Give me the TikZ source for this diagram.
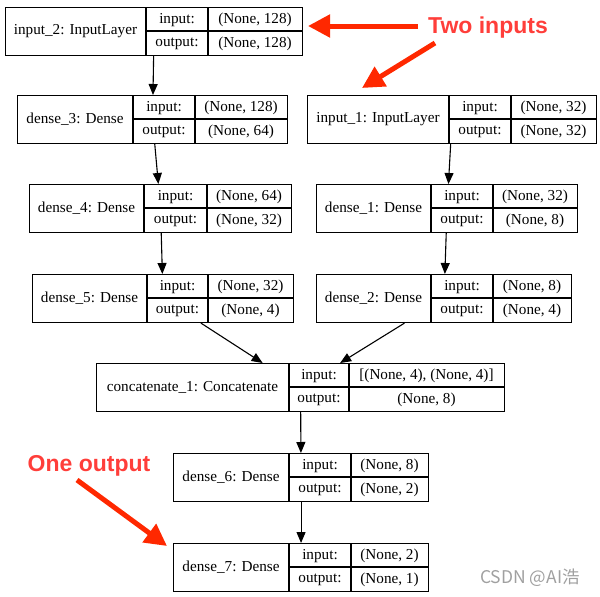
\documentclass[tikz,border=0pt]{standalone}
\usepackage{fontspec}
\setmainfont{Liberation Serif}
\newfontfamily\notefont{Liberation Sans}
\newfontfamily\cjk{Noto Sans CJK SC}
\usetikzlibrary{arrows.meta}
\definecolor{notered}{RGB}{255,62,58}
\definecolor{arrowred}{RGB}{255,40,0}
\definecolor{markgray}{RGB}{160,160,160}
% one keras layer: name, left, div1, div2, right, top, title, in, out
\newcommand{\layer}[9]{%
  \node[layerbox,minimum width={(#5-#2)*1pt}] (#1) at (#2,#6) {};
  \draw[cell] (#3,#6) -- (#3,{#6+48});
  \draw[cell] (#4,#6) -- (#4,{#6+48});
  \draw[cell] (#3,{#6+24}) -- (#5,{#6+24});
  \node (#1-t) at ({(#2+#3)/2},{#6+24}) {#7};
  \node (#1-a) at ({(#3+#4)/2},{#6+13}) {input:};
  \node (#1-b) at ({(#3+#4)/2},{#6+37}) {output:};
  \node (#1-c) at ({(#4+#5)/2},{#6+13}) {#8};
  \node (#1-d) at ({(#4+#5)/2},{#6+37}) {#9};
}
\begin{document}
\begin{tikzpicture}[x=1pt,y=-1pt,font=\fontsize{15.2}{17}\selectfont,
  layerbox/.style={draw,line width=1.1pt,anchor=north west,minimum height=48pt,inner sep=0pt},
  cell/.style={line width=1.1pt},
  edge/.style={line width=1.1pt,-{Triangle[length=11pt,width=9pt]}},
  bigarrow/.style={draw=arrowred,line width=5pt,-{Triangle[length=22pt,width=22pt]}},
  note/.style={text=notered,font=\notefont\bfseries\fontsize{23}{26}\selectfont}]
\useasboundingbox (0,0) rectangle (600,597);
\layer{in2}{5}{146}{208}{302}{7}{input\_2: InputLayer}{(None, 128)}{(None, 128)}
\layer{d3}{17}{133}{195}{287}{95}{dense\_3: Dense}{(None, 128)}{(None, 64)}
\layer{d4}{29}{144}{207}{291}{184}{dense\_4: Dense}{(None, 64)}{(None, 32)}
\layer{d5}{32}{147}{208}{293}{274}{dense\_5: Dense}{(None, 32)}{(None, 4)}
\layer{in1}{307}{449}{511}{596}{95}{input\_1: InputLayer}{(None, 32)}{(None, 32)}
\layer{d1}{316}{431}{493}{577}{184}{dense\_1: Dense}{(None, 32)}{(None, 8)}
\layer{d2}{316}{431}{493}{571}{274}{dense\_2: Dense}{(None, 8)}{(None, 4)}
\layer{cat}{96}{289}{349}{504}{363}{concatenate\_1: Concatenate}{[(None, 4), (None, 4)]}{(None, 8)}
\layer{d6}{173}{289}{351}{428}{453}{dense\_6: Dense}{(None, 8)}{(None, 2)}
\layer{d7}{173}{289}{351}{428}{543}{dense\_7: Dense}{(None, 2)}{(None, 1)}
\foreach \u/\v in {in2/d3,d3/d4,d4/d5,in1/d1,d1/d2,d5/cat,d2/cat,cat/d6,d6/d7}
  \draw[edge] (\u)--(\v);
% annotations
\node[note] (two) at (488,28) {Two inputs};
\node[note] (one) at (89,466) {One output};
\coordinate (t1) at (418,26);
\coordinate (h1) at (308,26);
\coordinate (t2) at (435,43);
\coordinate (h2) at (362,88);
\coordinate (t3) at (77,480);
\coordinate (h3) at (167,546);
\draw[bigarrow] (t1)--(h1);
\draw[bigarrow] (t2)--(h2);
\draw[bigarrow] (t3)--(h3);
\node[text=markgray,font=\cjk\fontsize{17.5}{20}\selectfont] (mark) at (530,578) {CSDN @AI浩};
\end{tikzpicture}
\end{document}
